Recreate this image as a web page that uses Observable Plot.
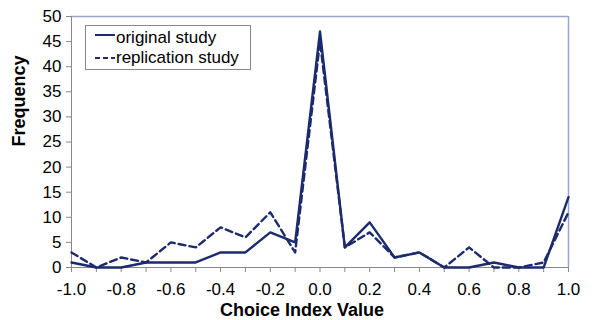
<!DOCTYPE html>
<html>
<head>
<meta charset="utf-8">
<script src="https://cdn.jsdelivr.net/npm/d3@7"></script>
<script src="https://cdn.jsdelivr.net/npm/@observablehq/plot@0.6"></script>
<style>
  html, body { margin: 0; padding: 0; background: #fff; }
</style>
</head>
<body>
<div id="chart"></div>
<script>
const choiceIndex = [-1.0, -0.9, -0.8, -0.7, -0.6, -0.5, -0.4, -0.3, -0.2, -0.1, 0.0, 0.1, 0.2, 0.3, 0.4, 0.5, 0.6, 0.7, 0.8, 0.9, 1.0];
const originalStudy = [1, 0, 0, 1, 1, 1, 3, 3, 7, 5, 47, 4, 9, 2, 3, 0, 0, 1, 0, 0, 14];
const replicationStudy = [3, 0, 2, 1, 5, 4, 8, 6, 11, 3, 45, 4, 7, 2, 3, 0, 4, 0, 0, 1, 11];
const seriesNames = ["original study", "replication study"];
const xTicks = d3.range(-10, 11).map(i => i / 10);
const yTicks = d3.range(0, 51, 5);

const data = [];
choiceIndex.forEach((x, i) => {
  data.push({x, y: originalStudy[i], series: seriesNames[0]});
  data.push({x, y: replicationStudy[i], series: seriesNames[1]});
});

const navy = "#1c2a6e";
const font = "'Liberation Sans', Arial, sans-serif";

const plot = Plot.plot({
  width: 592,
  height: 320,
  marginLeft: 71,
  marginRight: 24,
  marginTop: 16,
  marginBottom: 53,
  style: { fontFamily: font, fontSize: "17px", color: "#000", background: "#fff" },
  x: { domain: [-1, 1] },
  y: { domain: [0, 50] },
  marks: [
    Plot.axisX({
      ticks: xTicks,
      tickSize: 5,
      tickPadding: 10,
      stroke: "#888",
      tickFormat: d => (Math.round(d * 10) % 2 === 0 ? d.toFixed(1) : ""),
      label: null
    }),
    Plot.axisY({
      ticks: yTicks,
      tickSize: 5,
      tickPadding: 5,
      stroke: "#888",
      label: null
    }),
    Plot.ruleY([50], { stroke: "#9aa4d4", strokeWidth: 1.5 }),
    Plot.ruleX([1], { stroke: "#9aa4d4", strokeWidth: 1.5 }),
    Plot.ruleY([0], { stroke: "#888" }),
    Plot.ruleX([-1], { stroke: "#888" }),
    Plot.line(data.filter(d => d.series === seriesNames[1]), {
      x: "x", y: "y", stroke: navy, strokeWidth: 2.4, strokeDasharray: "7,4"
    }),
    Plot.line(data.filter(d => d.series === seriesNames[0]), {
      x: "x", y: "y", stroke: navy, strokeWidth: 2.4
    }),
    Plot.text(["Frequency"], {
      frameAnchor: "left", rotate: -90, dx: -52, dy: 4.5,
      fontWeight: "bold", fontSize: 18, fill: "#000"
    }),
    Plot.text(["Choice Index Value"], {
      frameAnchor: "bottom", lineAnchor: "middle", dx: -18, dy: 43,
      fontWeight: "bold", fontSize: 18, fill: "#000"
    })
  ]
});

document.getElementById("chart").appendChild(plot);

// Legend
const svg = d3.select(plot);
const lg = svg.append("g").attr("font-family", font).attr("font-size", 17).attr("text-anchor", "start");
lg.append("rect")
  .attr("x", 85.5).attr("y", 25.5).attr("width", 165).attr("height", 44)
  .attr("fill", "#fff").attr("stroke", "#888").attr("stroke-width", 1);
const items = [
  { name: seriesNames[0], dash: null, y: 35, ty: 38 },
  { name: seriesNames[1], dash: "5,3", y: 58, ty: 58 }
];
items.forEach(it => {
  lg.append("line")
    .attr("x1", 95).attr("x2", 115).attr("y1", it.y).attr("y2", it.y)
    .attr("stroke", navy).attr("stroke-width", 2)
    .attr("stroke-dasharray", it.dash);
  lg.append("text")
    .attr("x", 116).attr("y", it.ty).attr("dy", "0.32em")
    .attr("text-anchor", "start")
    .attr("fill", "#000").text(it.name);
});
</script>
</body>
</html>
